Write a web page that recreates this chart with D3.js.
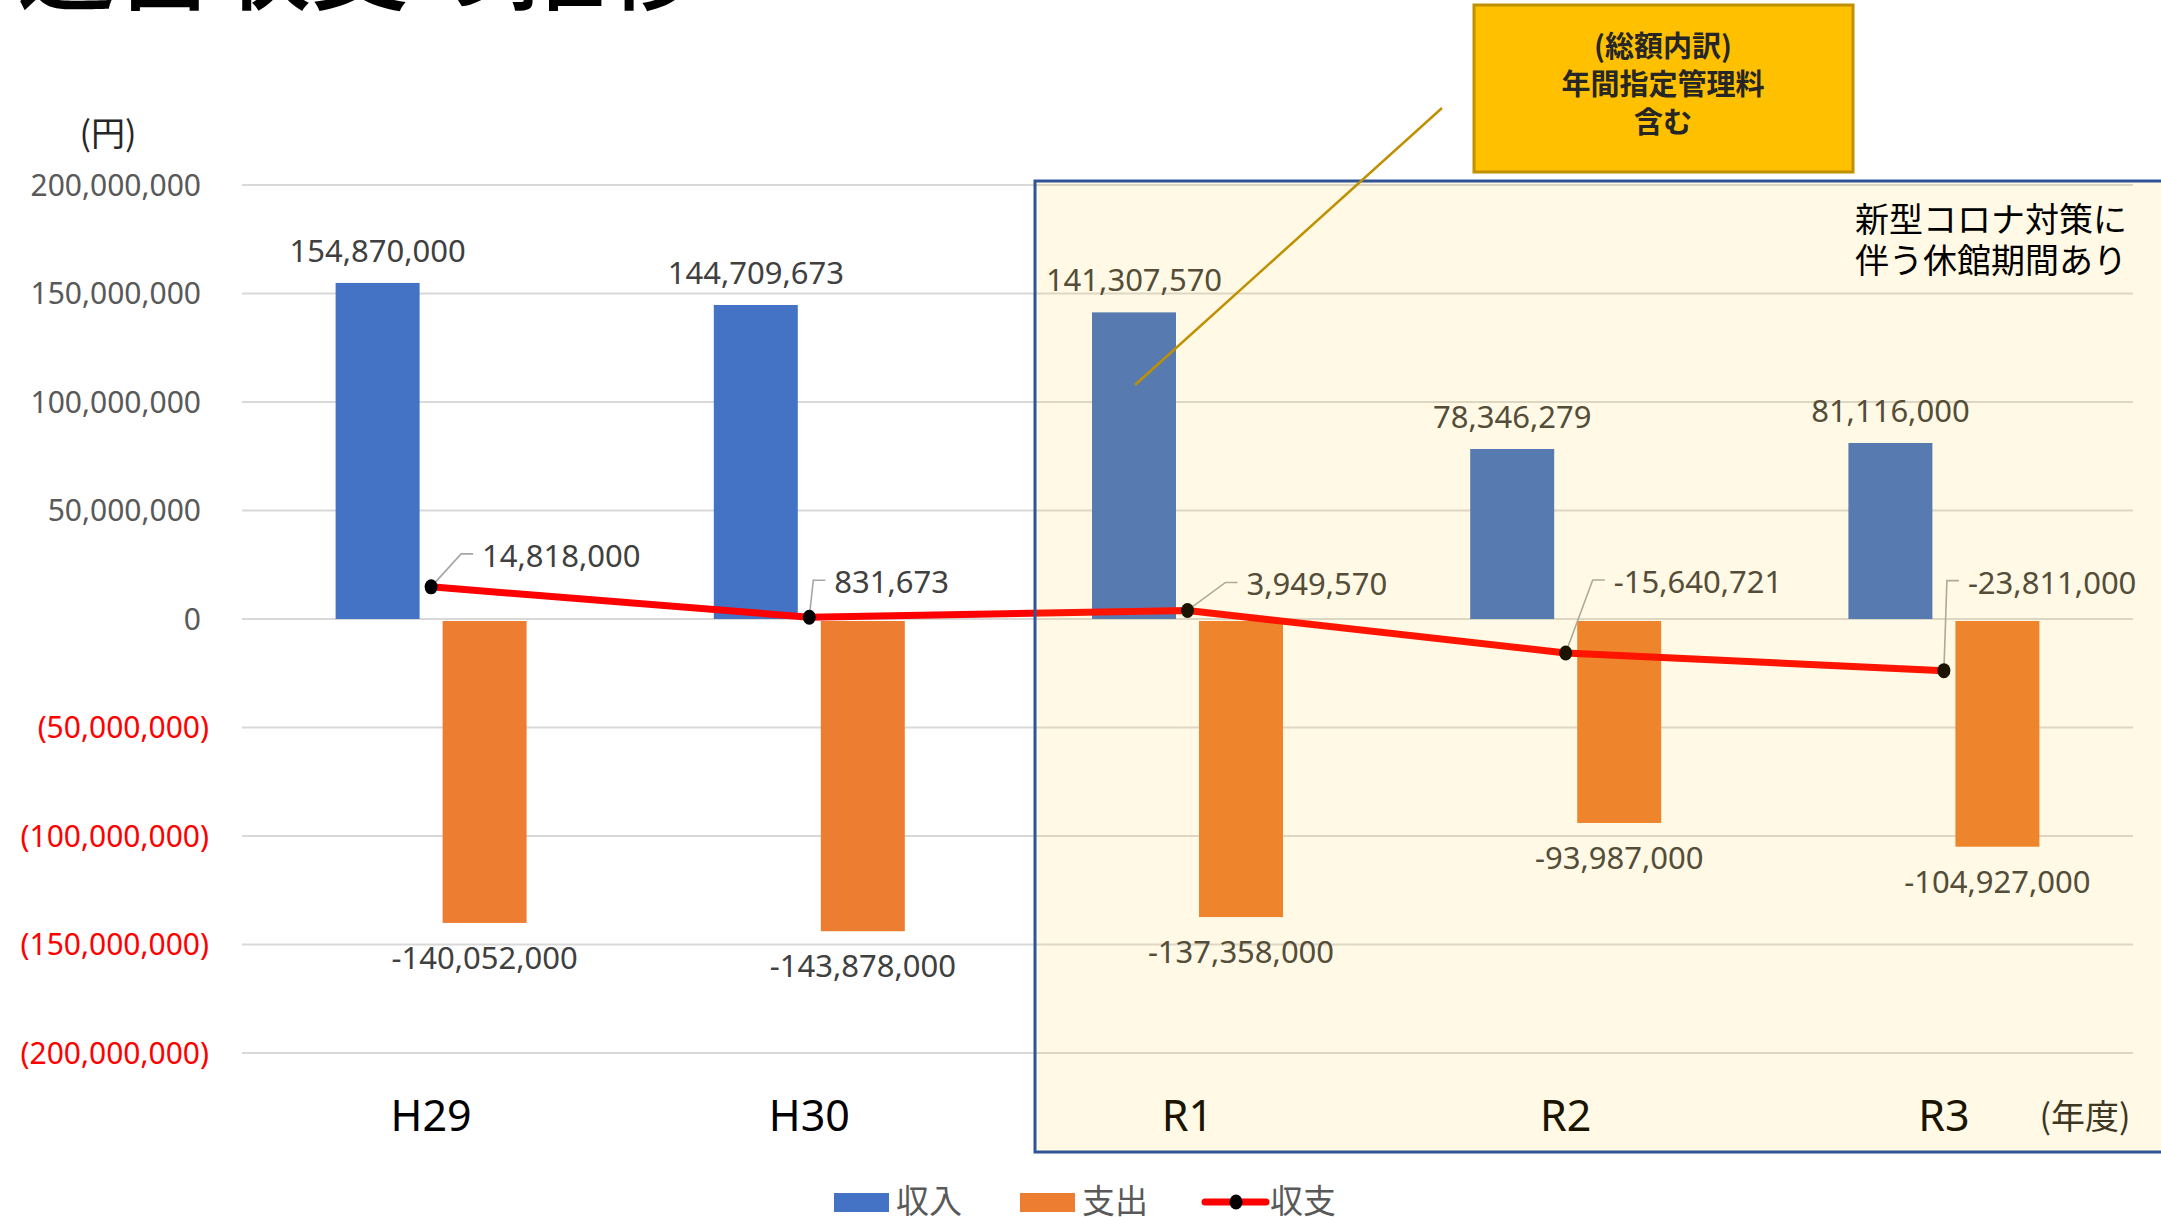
<!DOCTYPE html>
<html>
<head>
<meta charset="utf-8">
<script src="https://cdn.jsdelivr.net/npm/d3@7"></script>
<style>
  body { margin: 0; background: #ffffff; overflow: hidden; }
</style>
</head>
<body>
<div id="chart"></div>
<script>
// data
const YEARS = ["H29", "H30", "R1", "R2", "R3"];
const INCOME = [154870000, 144709673, 141307570, 78346279, 81116000];
const EXPENSE = [-140052000, -143878000, -137358000, -93987000, -104927000];
const BALANCE = [14818000, 831673, 3949570, -15640721, -23811000];
const Y_TICKS = [200000000, 150000000, 100000000, 50000000, 0, -50000000, -100000000, -150000000, -200000000];
const SERIES = ["収入", "支出", "収支"];

const TITLE = "運営収支の推移";
const CALLOUT_LINES = ["(総額内訳)", "年間指定管理料", "含む"];
const NOTE_LINES = ["新型コロナ対策に", "伴う休館期間あり"];

// label placement for the balance line (offset from point, px)
const BALANCE_LABEL_OFFSET = [[51, -31], [25, -35], [59, -26], [48, -71], [24, -88]];

const BLUE = "#4472C4";
const ORANGE = "#ED7D31";
const RED = "#FF0000";
const GRID = "#D9D9D9";
const FONT = "'Noto Sans', 'Noto Sans CJK JP', sans-serif";
const JP_FONT = "'Noto Sans CJK JP', 'Noto Sans', sans-serif";

const width = 2161;
const height = 1217;
const plot = { left: 242, right: 2133, top: 185, bottom: 1053 };

const svg = d3.select("#chart")
    .append("svg")
    .attr("width", width)
    .attr("height", height)
    .style("display", "block");

const x0 = d3.scaleBand()
    .domain(YEARS)
    .range([plot.left, plot.right])
    .paddingInner(0.495)
    .paddingOuter(0.2475);

const x1 = d3.scaleBand()
    .domain(SERIES.slice(0, 2))
    .range([0, x0.bandwidth()])
    .paddingInner(0.215);

const y = d3.scaleLinear()
    .domain([-200000000, 200000000])
    .range([plot.bottom, plot.top]);

// plain hyphen for negatives, like Excel
const fmt = v => d3.format(",")(v).replace("\u2212", "-");
const xc = d => x0(d) + x0.bandwidth() / 2;

// gridlines
svg.append("g")
    .selectAll("line")
    .data(Y_TICKS)
    .join("line")
    .attr("x1", plot.left)
    .attr("x2", plot.right)
    .attr("y1", d => y(d))
    .attr("y2", d => y(d))
    .attr("stroke", GRID)
    .attr("stroke-width", 2);

// y tick labels, negatives in red brackets
svg.append("g")
    .style("font-family", FONT)
    .style("font-size", "30px")
    .attr("text-anchor", "end")
    .selectAll("text")
    .data(Y_TICKS)
    .join("text")
    .attr("x", d => d < 0 ? 209 : 201)
    .attr("y", d => y(d))
    .attr("dy", "0.35em")
    .attr("fill", d => d < 0 ? RED : "#595959")
    .text(d => d < 0 ? `(${fmt(-d)})` : fmt(d));

svg.append("text")
    .attr("x", 108)
    .attr("y", 134)
    .attr("dy", "0.35em")
    .attr("text-anchor", "middle")
    .style("font-family", JP_FONT)
    .style("font-size", "34px")
    .attr("fill", "#262626")
    .text("(円)");

// bars
const rows = YEARS.map((yr, i) => ({ year: yr, income: INCOME[i], expense: EXPENSE[i], balance: BALANCE[i] }));

svg.append("g")
    .selectAll("rect")
    .data(rows)
    .join("rect")
    .attr("x", d => x0(d.year) + x1("収入"))
    .attr("width", x1.bandwidth())
    .attr("y", d => y(d.income))
    .attr("height", d => y(0) - y(d.income))
    .attr("fill", BLUE);

svg.append("g")
    .selectAll("rect")
    .data(rows)
    .join("rect")
    .attr("x", d => x0(d.year) + x1("支出"))
    .attr("width", x1.bandwidth())
    .attr("y", y(0) + 2)
    .attr("height", d => y(d.expense) - y(0) - 2)
    .attr("fill", ORANGE);

// bar value labels
const barLabels = svg.append("g")
    .style("font-family", FONT)
    .style("font-size", "31px")
    .attr("fill", "#404040")
    .attr("text-anchor", "middle");

barLabels.selectAll(".inc")
    .data(rows)
    .join("text")
    .attr("class", "inc")
    .attr("x", d => x0(d.year) + x1("収入") + x1.bandwidth() / 2)
    .attr("y", d => y(d.income) - 32)
    .attr("dy", "0.35em")
    .text(d => fmt(d.income));

barLabels.selectAll(".exp")
    .data(rows)
    .join("text")
    .attr("class", "exp")
    .attr("x", d => x0(d.year) + x1("支出") + x1.bandwidth() / 2)
    .attr("y", d => y(d.expense) + 35)
    .attr("dy", "0.35em")
    .text(d => fmt(d.expense));

// balance line
svg.append("path")
    .datum(rows)
    .attr("fill", "none")
    .attr("stroke", RED)
    .attr("stroke-width", 7)
    .attr("stroke-linejoin", "round")
    .attr("d", d3.line().x(d => xc(d.year)).y(d => y(d.balance)));

// leader lines + labels for the line
const leaders = svg.append("g");
rows.forEach((d, i) => {
    const px = xc(d.year), py = y(d.balance);
    const lx = px + BALANCE_LABEL_OFFSET[i][0];
    const ly = py + BALANCE_LABEL_OFFSET[i][1];
    leaders.append("polyline")
        .attr("points", `${px},${py} ${lx - 21},${ly - 2} ${lx - 9},${ly - 2}`)
        .attr("fill", "none")
        .attr("stroke", "#A6A6A6")
        .attr("stroke-width", 1.6);
    leaders.append("text")
        .attr("x", lx)
        .attr("y", ly)
        .attr("dy", "0.35em")
        .style("font-family", FONT)
        .style("font-size", "31px")
        .attr("fill", "#404040")
        .text(fmt(d.balance));
});

svg.append("g")
    .selectAll("ellipse")
    .data(rows)
    .join("ellipse")
    .attr("cx", d => xc(d.year))
    .attr("cy", d => y(d.balance))
    .attr("rx", 6.5)
    .attr("ry", 7.5)
    .attr("fill", "#000000");

// category labels
svg.append("g")
    .style("font-family", FONT)
    .style("font-size", "43px")
    .attr("text-anchor", "middle")
    .selectAll("text")
    .data(YEARS)
    .join("text")
    .attr("x", d => xc(d))
    .attr("y", 1116)
    .attr("dy", "0.35em")
    .attr("fill", "#000000")
    .text(d => d);

svg.append("text")
    .attr("x", 2085)
    .attr("y", 1117)
    .attr("dy", "0.35em")
    .attr("text-anchor", "middle")
    .style("font-family", JP_FONT)
    .style("font-size", "34px")
    .attr("fill", "#262626")
    .text("(年度)");

// translucent highlight for the covid years
svg.append("rect")
    .attr("x", 1035)
    .attr("y", 181)
    .attr("width", width - 1035 + 10)
    .attr("height", 1152 - 181)
    .attr("fill", "#FFC000")
    .attr("fill-opacity", 0.1)
    .attr("stroke", "#2F5597")
    .attr("stroke-width", 3);

svg.append("g")
    .style("font-family", JP_FONT)
    .style("font-size", "34px")
    .attr("fill", "#000000")
    .selectAll("text")
    .data(NOTE_LINES)
    .join("text")
    .attr("x", 1855)
    .attr("y", (d, i) => 220 + i * 41)
    .attr("dy", "0.35em")
    .text(d => d);

// callout
svg.append("line")
    .attr("x1", 1442).attr("y1", 108)
    .attr("x2", 1135).attr("y2", 385)
    .attr("stroke", "#BF9000")
    .attr("stroke-width", 2.5);

svg.append("rect")
    .attr("x", 1474)
    .attr("y", 5)
    .attr("width", 379)
    .attr("height", 167)
    .attr("fill", "#FFC000")
    .attr("stroke", "#BF9000")
    .attr("stroke-width", 3);

svg.append("g")
    .style("font-family", JP_FONT)
    .style("font-size", "29px")
    .style("font-weight", 700)
    .attr("fill", "#262626")
    .attr("text-anchor", "middle")
    .selectAll("text")
    .data(CALLOUT_LINES)
    .join("text")
    .attr("x", 1663)
    .attr("y", (d, i) => 47 + i * 38)
    .attr("dy", "0.35em")
    .text(d => d);

// title, cut off by the top edge
svg.append("text")
    .attr("x", 17)
    .attr("y", 2)
    .style("font-family", JP_FONT)
    .style("font-size", "98px")
    .style("font-weight", 500)
    .attr("fill", "#000000")
    .text(TITLE);

// legend
const legend = svg.append("g")
    .style("font-family", JP_FONT)
    .style("font-size", "33px")
    .attr("fill", "#595959");

const legendItems = [
    { name: SERIES[0], x: 834, color: BLUE },
    { name: SERIES[1], x: 1020, color: ORANGE },
    { name: SERIES[2], x: 1205, color: RED }
];
legendItems.forEach((d, i) => {
    if (i < 2) {
        legend.append("rect")
            .attr("x", d.x).attr("y", 1193)
            .attr("width", 55).attr("height", 19)
            .attr("fill", d.color);
    } else {
        legend.append("line")
            .attr("x1", d.x).attr("x2", d.x + 61)
            .attr("y1", 1202).attr("y2", 1202)
            .attr("stroke", RED).attr("stroke-width", 7)
            .attr("stroke-linecap", "round");
        legend.append("ellipse")
            .attr("cx", d.x + 31).attr("cy", 1202).attr("rx", 6.5).attr("ry", 7.5)
            .attr("fill", "#000000");
    }
    legend.append("text")
        .attr("x", d.x + (i < 2 ? 62 : 65))
        .attr("y", 1201)
        .attr("dy", "0.35em")
        .text(d.name);
});
</script>
</body>
</html>
